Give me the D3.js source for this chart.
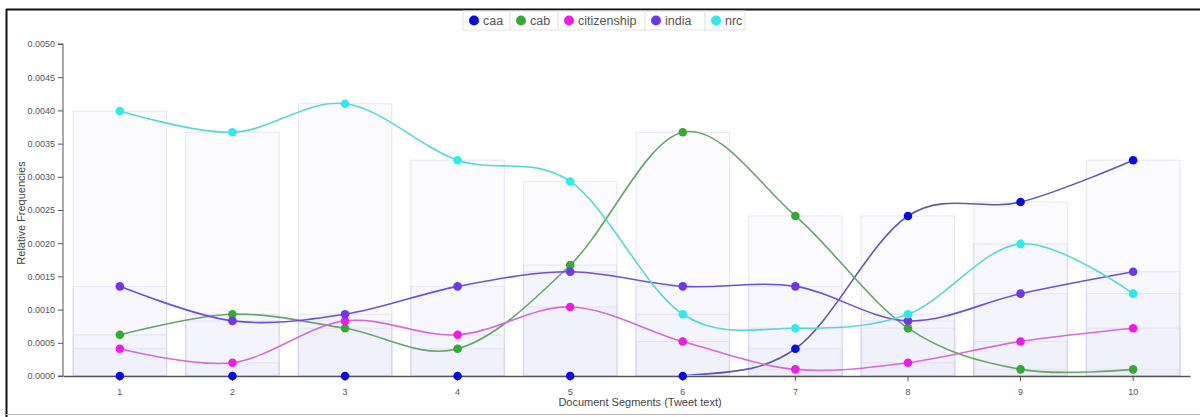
<!DOCTYPE html>
<html><head><meta charset="utf-8">
<script src="https://cdn.jsdelivr.net/npm/d3@7"></script>
<style>
body{margin:0;background:#fff;font-family:"Liberation Sans",Arial,sans-serif;}
svg{display:block}
</style></head>
<body>
<svg id="c" width="1200" height="417"></svg>
<script>
const segments = ["1","2","3","4","5","6","7","8","9","10"];
const seriesNames = ["caa","cab","citizenship","india","nrc"];
const caa = [0,0,0,0,0,0,0.00041,0.00241,0.00262,0.00325];
const cab = [0.00062,0.00093,0.00072,0.00041,0.00167,0.00367,0.00241,0.00072,0.0001,0.0001];
const citizenship = [0.00041,0.0002,0.00083,0.00062,0.00104,0.00052,0.0001,0.0002,0.00052,0.00072];
const india = [0.00135,0.00083,0.00093,0.00135,0.00157,0.00135,0.00135,0.00083,0.00124,0.00157];
const nrc = [0.00399,0.00367,0.0041,0.00325,0.00293,0.00093,0.00072,0.00093,0.00199,0.00124];
const yTicks = [0,0.0005,0.001,0.0015,0.002,0.0025,0.003,0.0035,0.004,0.0045,0.005];

const values = {caa, cab, citizenship, india, nrc};
const dotColors = {caa:"#0a0ae6", cab:"#33aa33", citizenship:"#f218e6", india:"#7037e8", nrc:"#2eeaea"};
const lineColors = {caa:"#5a5ab4", cab:"#67a567", citizenship:"#d66ad6", india:"#6e4fe0", nrc:"#55d8d8"};

const svg = d3.select("#c");
// frame
svg.append("line").attr("x1",6).attr("x2",1200).attr("y1",9.5).attr("y2",9.5).attr("stroke","#111").attr("stroke-width",2);
svg.append("line").attr("x1",6.5).attr("x2",6.5).attr("y1",9).attr("y2",417).attr("stroke","#111").attr("stroke-width",2);
svg.append("line").attr("x1",6).attr("x2",1200).attr("y1",414.5).attr("y2",414.5).attr("stroke","#bbb").attr("stroke-width",1);

const mL = 63, mR = 1190, mT = 44, mB = 376;
const x = d3.scaleBand().domain(segments).range([mL,mR]).paddingInner(0.17).paddingOuter(0.09);
const y = d3.scaleLinear().domain([0,0.005]).range([mB,mT]);

const g = svg.append("g");
// bars
seriesNames.forEach(s=>{
  g.append("g").selectAll("rect").data(segments).join("rect")
    .attr("x",d=>x(d)).attr("width",x.bandwidth())
    .attr("y",(d,i)=>y(values[s][i])).attr("height",(d,i)=>mB-y(values[s][i]))
    .attr("fill","#e2e2f4").attr("fill-opacity",0.12)
    .attr("stroke","#d4d4ee").attr("stroke-opacity",0.55).attr("stroke-width",1);
});

// axes
const yAxis = g.append("g").attr("transform",`translate(${mL},0)`)
  .call(d3.axisLeft(y).tickValues(yTicks).tickFormat(d3.format(".4f")).tickSize(5));
const xAxis = g.append("g").attr("transform",`translate(0,${mB})`)
  .call(d3.axisBottom(x).tickSize(5).tickSizeOuter(0));
[yAxis,xAxis].forEach(a=>{
  a.selectAll("text").attr("fill","#555").style("font-family","'Liberation Sans',Arial,sans-serif").style("font-size","9px");
  a.selectAll("line").attr("stroke","#555");
  a.select(".domain").attr("stroke","#555");
});
yAxis.select(".domain").attr("d",`M-5,${mT}H0V${mB}H-5`);
xAxis.select(".domain").attr("stroke-width",1.5);
xAxis.selectAll("text").attr("dy","1.2em");

svg.append("text").attr("transform",`translate(25,${(mT+mB)/2+3}) rotate(-90)`)
  .attr("text-anchor","middle").attr("fill","#444").style("font-size","11px").text("Relative Frequencies");
svg.append("text").attr("x",640).attr("y",406).attr("text-anchor","middle")
  .attr("fill","#444").style("font-size","11px").text("Document Segments (Tweet text)");

// lines
svg.append("defs").append("clipPath").attr("id","pc").append("rect")
  .attr("x",mL).attr("y",0).attr("width",mR-mL).attr("height",mB-1);
const line = d3.line().x((d,i)=>x(segments[i])+x.bandwidth()/2).y(d=>y(d)).curve(d3.curveCardinal);
seriesNames.forEach(s=>{
  g.append("path").datum(values[s]).attr("d",line).attr("fill","none")
    .attr("stroke",lineColors[s]).attr("stroke-width",1.6).attr("clip-path","url(#pc)");
});
seriesNames.forEach(s=>{
  g.append("g").selectAll("circle").data(values[s]).join("circle")
    .attr("cx",(d,i)=>x(segments[i])+x.bandwidth()/2).attr("cy",d=>y(d)).attr("r",4.3)
    .attr("fill",dotColors[s]);
});

// legend
const legendWidths = [47,48,87,60,40];
const legX0 = 463, legY = 11, legH = 19;
let lx = legX0;
const leg = svg.append("g");
seriesNames.forEach((s,i)=>{
  const w = legendWidths[i];
  const it = leg.append("g").attr("transform",`translate(${lx},${legY})`);
  it.append("rect").attr("width",w).attr("height",legH).attr("fill","#fff").attr("stroke","#e4e4e4");
  it.append("circle").attr("cx",11).attr("cy",legH/2).attr("r",5).attr("fill",dotColors[s]);
  it.append("text").attr("x",20).attr("y",legH/2+4.5).attr("fill","#555").style("font-size","12.5px").text(s);
  lx += w;
});
</script>
</body></html>
